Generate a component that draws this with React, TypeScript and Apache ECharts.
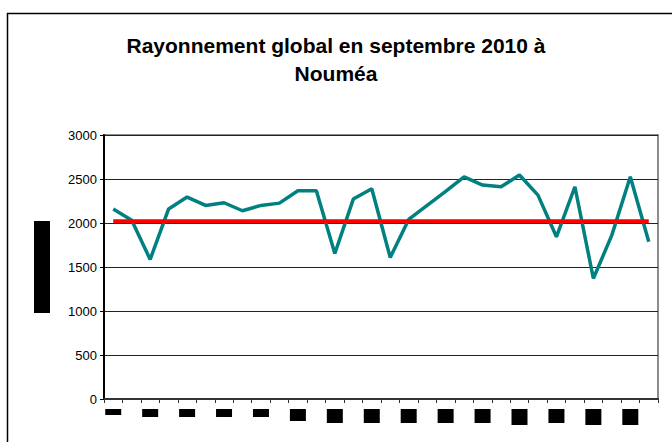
import React, { useEffect, useRef } from "react";
import * as echarts from "echarts";

const titleText = "Rayonnement global en septembre 2010 à\nNouméa";
const yAxisName = "Rayonnement (J/cm²)";
const days = Array.from({ length: 30 }, (_, i) => String(i + 1));
const radiation = [
  2158, 2030, 1586, 2160, 2295, 2200, 2230, 2139, 2200, 2226,
  2366, 2366, 1654, 2272, 2389, 1608, 2040, 2200, 2360, 2525,
  2431, 2412, 2545, 2317, 1843, 2412, 1369, 1862, 2525, 1786,
];
const normal = [
  2020, 2020, 2020, 2020, 2020, 2020, 2020, 2020, 2020, 2020,
  2020, 2020, 2020, 2020, 2020, 2020, 2020, 2020, 2020, 2020,
  2020, 2020, 2020, 2020, 2020, 2020, 2020, 2020, 2020, 2020,
];
const yTicks = { min: 0, max: 3000, interval: 500 };

// label box heights (style only), keyed by day
const boxStyleFor = (d: number) => {
  if (d === 1) return "h6";
  if (d < 10) return "h8";
  if (d === 11) return "h12";
  if (d === 23 || d >= 27) return "h16";
  return "h14";
};

export default function App() {
  const ref = useRef<HTMLDivElement>(null);
  useEffect(() => {
    document.body.style.margin = "0";
    const chart = echarts.init(ref.current!, null, { renderer: "svg" });
    const box = (h: number) => ({
      backgroundColor: "#000",
      color: "#000",
      width: 16,
      height: h,
      lineHeight: h,
      fontSize: Math.min(h - 1, 8),
      align: "center",
    });
    chart.setOption({
      animation: false,
      textStyle: { fontFamily: "Liberation Sans, Arial, sans-serif" },
      title: {
        text: titleText,
        left: "center",
        top: 26,
        textStyle: {
          fontSize: 21,
          fontWeight: "bold",
          color: "#000",
          lineHeight: 28,
          fontFamily: "Liberation Sans, Arial, sans-serif",
        },
      },
      graphic: [
        {
          type: "rect",
          shape: { x: 7.5, y: 13.5, width: 700, height: 500 },
          style: { fill: "none", stroke: "#000", lineWidth: 1.5 },
          silent: true,
        },
        {
          type: "text",
          x: 42,
          y: 267,
          rotation: Math.PI / 2,
          style: {
            text: "{b|" + yAxisName + "}",
            rich: {
              b: {
                backgroundColor: "#000",
                color: "#000",
                width: 92,
                height: 16,
                lineHeight: 16,
                fontSize: 6,
                align: "center",
              },
            },
            align: "center",
            verticalAlign: "middle",
          },
          silent: true,
        },
      ],
      grid: {
        left: 104,
        top: 135,
        width: 554,
        height: 264,
        show: true,
        borderColor: "#8c8c8c",
        borderWidth: 2,
        backgroundColor: "transparent",
      },
      xAxis: {
        type: "category",
        data: days,
        boundaryGap: true,
        axisLine: { show: true, lineStyle: { color: "#333", width: 2 } },
        axisTick: { show: true, interval: 0, length: 4, lineStyle: { color: "#333", width: 1 } },
        axisLabel: {
          interval: 1,
          margin: 10,
          verticalAlign: "top",
          formatter: (v: string) => `{${boxStyleFor(Number(v))}|${v}}`,
          rich: {
            h6: box(6),
            h8: box(8),
            h12: box(12),
            h14: box(14),
            h16: box(16),
          },
        },
        splitLine: { show: false },
      },
      yAxis: {
        type: "value",
        min: yTicks.min,
        max: yTicks.max,
        interval: yTicks.interval,
        axisLine: { show: true, lineStyle: { color: "#000", width: 2 } },
        axisTick: { show: true, length: 4, lineStyle: { color: "#000", width: 1 } },
        axisLabel: {
          color: "#000",
          fontSize: 13,
          margin: 7,
          formatter: (v: number) => String(v),
          fontFamily: "Liberation Sans, Arial, sans-serif",
        },
        splitLine: { show: true, lineStyle: { color: "#222", width: 1 } },
      },
      series: [
        {
          name: "Rayonnement",
          type: "line",
          data: radiation,
          symbol: "none",
          lineStyle: { color: "#008080", width: 3.5 },
          z: 2,
        },
        {
          name: "Normale",
          type: "line",
          data: normal,
          symbol: "none",
          lineStyle: { color: "#ff0000", width: 4 },
          z: 3,
        },
      ],
    });
    return () => chart.dispose();
  }, []);
  return <div ref={ref} style={{ width: 672, height: 442 }} />;
}
